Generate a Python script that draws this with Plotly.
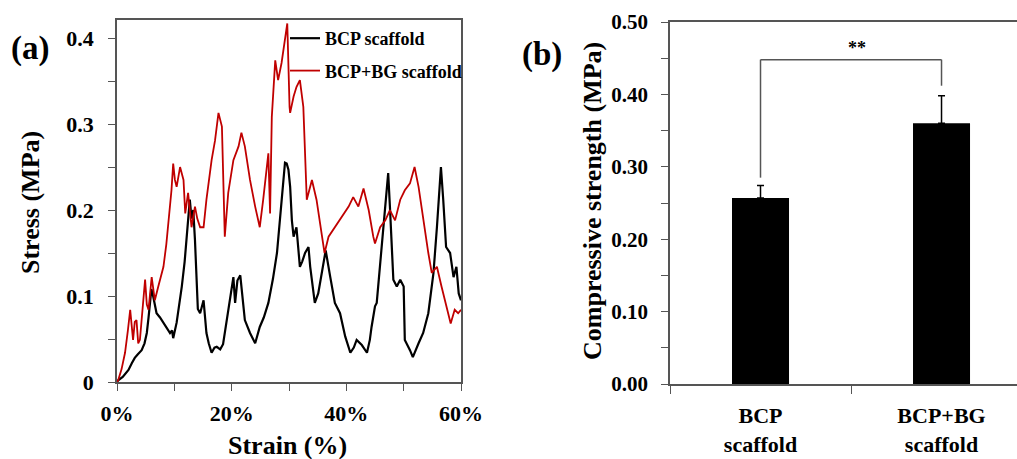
import plotly.graph_objects as go

# ---------------- data ----------------
strain_bcp = [0.0, 0.2, 1.0, 2.0, 2.6, 3.1, 3.6, 4.3, 4.8, 5.2, 5.5, 5.8, 6.0, 6.3, 6.9, 7.5, 7.8, 8.5,
              9.25, 9.6, 9.8, 10.4, 10.9, 11.3, 11.8, 12.2, 12.5, 12.7, 13.0, 13.3, 13.6, 13.9, 14.1,
              14.5, 15.1, 15.6, 16.0, 16.5, 17.0, 17.4, 18.0, 18.5, 19.1, 19.7, 20.3, 20.6, 21.0, 21.5,
              22.3, 23.2, 24.1, 24.9, 25.6, 26.4, 27.2, 27.9, 28.3, 28.7, 29.0, 29.3, 29.6, 29.9, 30.2,
              30.5, 30.8, 31.3, 31.9, 32.3, 32.8, 33.4, 33.7, 34.1, 34.5, 35.1, 35.7, 36.4, 37.2, 38.0,
              38.9, 39.4, 39.8, 40.7, 41.3, 41.8, 42.7, 43.6, 44.1, 44.4, 45.0, 45.3, 46.2, 47.1, 47.3,
              47.6, 47.9, 48.2, 48.8, 49.4, 50.0, 50.2, 51.1, 51.6, 52.6, 53.4, 54.3, 55.2, 55.8, 56.4,
              56.5, 56.9, 57.4, 58.1, 58.7, 59.2, 59.6, 60.0]
stress_bcp = [0.0, 0.002, 0.006, 0.014, 0.022, 0.028, 0.032, 0.037, 0.045, 0.057, 0.075, 0.095, 0.108,
              0.1, 0.08, 0.075, 0.072, 0.066, 0.057, 0.06, 0.051, 0.069, 0.09, 0.111, 0.14, 0.173, 0.195,
              0.212, 0.19, 0.2, 0.165, 0.119, 0.085, 0.08, 0.095, 0.057, 0.045, 0.034, 0.04, 0.041,
              0.038, 0.044, 0.072, 0.095, 0.122, 0.092, 0.118, 0.124, 0.072, 0.057, 0.045, 0.064, 0.075,
              0.092, 0.12, 0.15, 0.18, 0.208, 0.235, 0.255, 0.254, 0.247, 0.227, 0.188, 0.169, 0.18,
              0.134, 0.14, 0.15, 0.157, 0.134, 0.11, 0.092, 0.103, 0.127, 0.153, 0.122, 0.092, 0.08,
              0.065, 0.053, 0.034, 0.04, 0.049, 0.043, 0.034, 0.049, 0.064, 0.088, 0.092, 0.157, 0.227,
              0.243, 0.204, 0.157, 0.119, 0.111, 0.119, 0.111, 0.049, 0.037, 0.029, 0.045, 0.057, 0.08,
              0.127, 0.18, 0.243, 0.25, 0.212, 0.157, 0.15, 0.122, 0.134, 0.103, 0.095]

strain_bg = [0.0, 0.2, 0.8, 1.4, 1.9, 2.3, 2.8, 3.1, 3.4, 3.7, 4.0, 4.3, 4.6, 4.9, 5.2, 5.5, 6.05, 6.6,
             7.2, 8.1, 8.6, 9.0, 9.5, 9.8, 10.1, 10.4, 11.0, 11.6, 11.9, 12.4, 13.0, 13.6, 14.0, 14.5,
             15.1, 15.6, 16.1, 16.5, 17.1, 17.7, 18.3, 18.8, 19.4, 20.3, 21.2, 21.7, 22.3, 23.2, 24.1,
             24.9, 25.5, 26.4, 26.7, 27.0, 27.6, 28.1, 28.7, 29.3, 29.7, 30.1, 30.2, 30.8, 31.3, 31.9,
             32.5, 33.1, 34.0, 34.8, 35.7, 36.2, 36.9, 38.0, 39.2, 40.4, 41.2, 42.1, 43.0, 43.9, 44.7,
             45.0, 45.9, 46.8, 47.6, 48.5, 49.4, 50.2, 51.1, 51.9, 52.6, 53.4, 54.3, 54.9, 55.8, 56.6,
             57.5, 58.2, 58.9, 59.5, 60.0]
stress_bg = [0.0, 0.002, 0.015, 0.034, 0.06, 0.084, 0.049, 0.07, 0.072, 0.045, 0.049, 0.072, 0.09,
             0.119, 0.09, 0.084, 0.122, 0.095, 0.111, 0.134, 0.16, 0.188, 0.223, 0.254, 0.235, 0.227,
             0.25, 0.235, 0.196, 0.22, 0.18, 0.204, 0.19, 0.18, 0.18, 0.212, 0.24, 0.258, 0.281, 0.313,
             0.297, 0.169, 0.22, 0.258, 0.274, 0.29, 0.274, 0.235, 0.204, 0.18, 0.212, 0.266, 0.196,
             0.308, 0.374, 0.351, 0.371, 0.402, 0.417, 0.32, 0.313, 0.332, 0.343, 0.351, 0.32, 0.212,
             0.235, 0.212, 0.173, 0.15, 0.169, 0.18, 0.192, 0.204, 0.215, 0.204, 0.225, 0.2, 0.169,
             0.161, 0.18, 0.188, 0.2, 0.188, 0.212, 0.223, 0.231, 0.25, 0.227, 0.188, 0.15, 0.127,
             0.134, 0.111, 0.088, 0.068, 0.084, 0.08, 0.084]

series_names = ["BCP scaffold", "BCP+BG scaffold"]

strain_ticks = [0, 20, 40, 60]
strain_labels = ["0%", "20%", "40%", "60%"]
stress_ticks = [0, 0.1, 0.2, 0.3, 0.4]
stress_labels = ["0", "0.1", "0.2", "0.3", "0.4"]

bar_categories = ["BCP<br>scaffold", "BCP+BG<br>scaffold"]
bar_means = [0.257, 0.360]
bar_errors = [0.017, 0.038]
strength_ticks = [0.0, 0.1, 0.2, 0.3, 0.4, 0.5]
strength_labels = ["0.00", "0.10", "0.20", "0.30", "0.40", "0.50"]
significance = "**"
bracket_top = 0.448

# ---------------- figure ----------------
AX = "#555555"
SERIF = "Liberation Serif"

fig = go.Figure()
fig.add_trace(go.Scatter(x=strain_bcp, y=stress_bcp, mode="lines", name=series_names[0],
                         line=dict(color="black", width=2.2), xaxis="x", yaxis="y",
                         legendgroup="a"))
fig.add_trace(go.Scatter(x=strain_bg, y=stress_bg, mode="lines", name=series_names[1],
                         line=dict(color="#C00000", width=1.8), xaxis="x", yaxis="y",
                         legendgroup="b"))

bx = list(range(len(bar_categories)))
fig.add_trace(go.Bar(x=bx, y=bar_means, width=0.315, marker=dict(color="black", line=dict(width=0)),
                     error_y=dict(type="data", symmetric=False, array=bar_errors,
                                  arrayminus=[0] * len(bar_errors), color="black",
                                  thickness=1.5, width=3.5),
                     xaxis="x2", yaxis="y2", showlegend=False))

# significance bracket
left_base = bar_means[0] + bar_errors[0] + 0.011
right_base = bar_means[1] + bar_errors[1] + 0.014
bl = dict(color=AX, width=1.5)
fig.add_shape(type="line", xref="x2", yref="y2", x0=bx[0], x1=bx[0], y0=left_base, y1=bracket_top, line=bl)
fig.add_shape(type="line", xref="x2", yref="y2", x0=bx[0], x1=bx[1], y0=bracket_top, y1=bracket_top, line=bl)
fig.add_shape(type="line", xref="x2", yref="y2", x0=bx[1], x1=bx[1], y0=right_base, y1=bracket_top, line=bl)

tickfont_l = dict(family=SERIF, size=22, color="black")
tickfont_r = dict(family=SERIF, size=21, color="black")

fig.update_layout(
    width=1017, height=459,
    margin=dict(l=0, r=0, t=0, b=0, autoexpand=False),
    paper_bgcolor="white", plot_bgcolor="white",
    showlegend=True,
    legend=dict(x=285 / 1017, y=1 - 20 / 459, xanchor="left", yanchor="top",
                bgcolor="rgba(0,0,0,0)", traceorder="grouped", tracegroupgap=6,
                font=dict(family=SERIF, size=18, color="black", weight="bold"),
                itemwidth=30),
    xaxis=dict(domain=[117 / 1017, 461 / 1017], range=[0, 60], anchor="y", automargin=False,
               showline=True, linecolor=AX, linewidth=1.5, mirror=True,
               showgrid=False, zeroline=False,
               tickmode="array", tickvals=strain_ticks, ticktext=strain_labels,
               ticks="outside", ticklen=7, tickwidth=1.2, tickcolor=AX,
               tickfont=dict(tickfont_l, weight="bold"), ticklabelstandoff=4,
               minor=dict(tickmode="array", tickvals=[10, 30, 50], ticks="outside",
                          ticklen=7, tickwidth=1.2, tickcolor=AX, showgrid=False)),
    yaxis=dict(domain=[1 - 382 / 459, 1 - 20 / 459], range=[0, 0.421], anchor="x", automargin=False,
               showline=True, linecolor=AX, linewidth=1.5, mirror=True,
               showgrid=False, zeroline=False,
               tickmode="array", tickvals=stress_ticks, ticktext=stress_labels,
               ticks="outside", ticklen=7, tickwidth=1.2, tickcolor=AX,
               tickfont=dict(tickfont_l, weight="bold"), ticklabelstandoff=10,
               minor=dict(tickmode="array", tickvals=[0.05, 0.15, 0.25, 0.35], ticks="outside",
                          ticklen=7, tickwidth=1.2, tickcolor=AX, showgrid=False)),
    xaxis2=dict(domain=[670 / 1017, 1.0], range=[-0.5, 1.417], anchor="y2", automargin=False,
                showline=True, linecolor=AX, linewidth=1.5, mirror=True,
                showgrid=False, zeroline=False,
                tickmode="array", tickvals=bx, ticktext=bar_categories, ticks="",
                tickfont=dict(family=SERIF, size=22, color="black", weight="bold"),
                ticklabelstandoff=11,
                minor=dict(tickmode="array", tickvals=[-0.5, 0.5, 1.5], ticks="outside",
                           ticklen=8, tickwidth=1.2, tickcolor=AX, showgrid=False)),
    yaxis2=dict(domain=[1 - 384 / 459, 1 - 22 / 459], range=[0, 0.5], anchor="x2", automargin=False,
                showline=True, linecolor=AX, linewidth=1.5, mirror=False,
                showgrid=False, zeroline=False,
                tickmode="array", tickvals=strength_ticks, ticktext=strength_labels,
                ticks="outside", ticklen=7, tickwidth=1.2, tickcolor=AX,
                tickfont=dict(tickfont_r, weight="bold"), ticklabelstandoff=9,
                minor=dict(tickmode="array", tickvals=[0.05, 0.15, 0.25, 0.35, 0.45],
                           ticks="outside", ticklen=7, tickwidth=1.2, tickcolor=AX,
                           showgrid=False)),
)

def txt(s, x, y, size, angle=0):
    fig.add_annotation(text=f"<b>{s}</b>", x=x / 1017, y=1 - y / 459, xref="paper", yref="paper",
                       showarrow=False, textangle=angle, xanchor="center", yanchor="middle",
                       font=dict(family=SERIF, size=size, color="black"))

txt("(a)", 30, 49, 33)
txt("(b)", 542, 54, 33)
txt("Stress (MPa)", 30, 203, 26, -90)
txt("Strain (%)", 287, 445, 26)
txt("Compressive strength (MPa)", 592, 201, 26, -90)
fig.add_annotation(text=f"<b>{significance}</b>", x=(bx[0] + bx[1]) / 2, y=bracket_top,
                   xref="x2", yref="y2", showarrow=False, yanchor="bottom", yshift=0, xshift=6,
                   font=dict(family=SERIF, size=18, color="black"))

fig.write_html("out.html", config={"displayModeBar": False},
               post_script="document.body.style.margin='0';document.body.style.overflow='hidden';")
